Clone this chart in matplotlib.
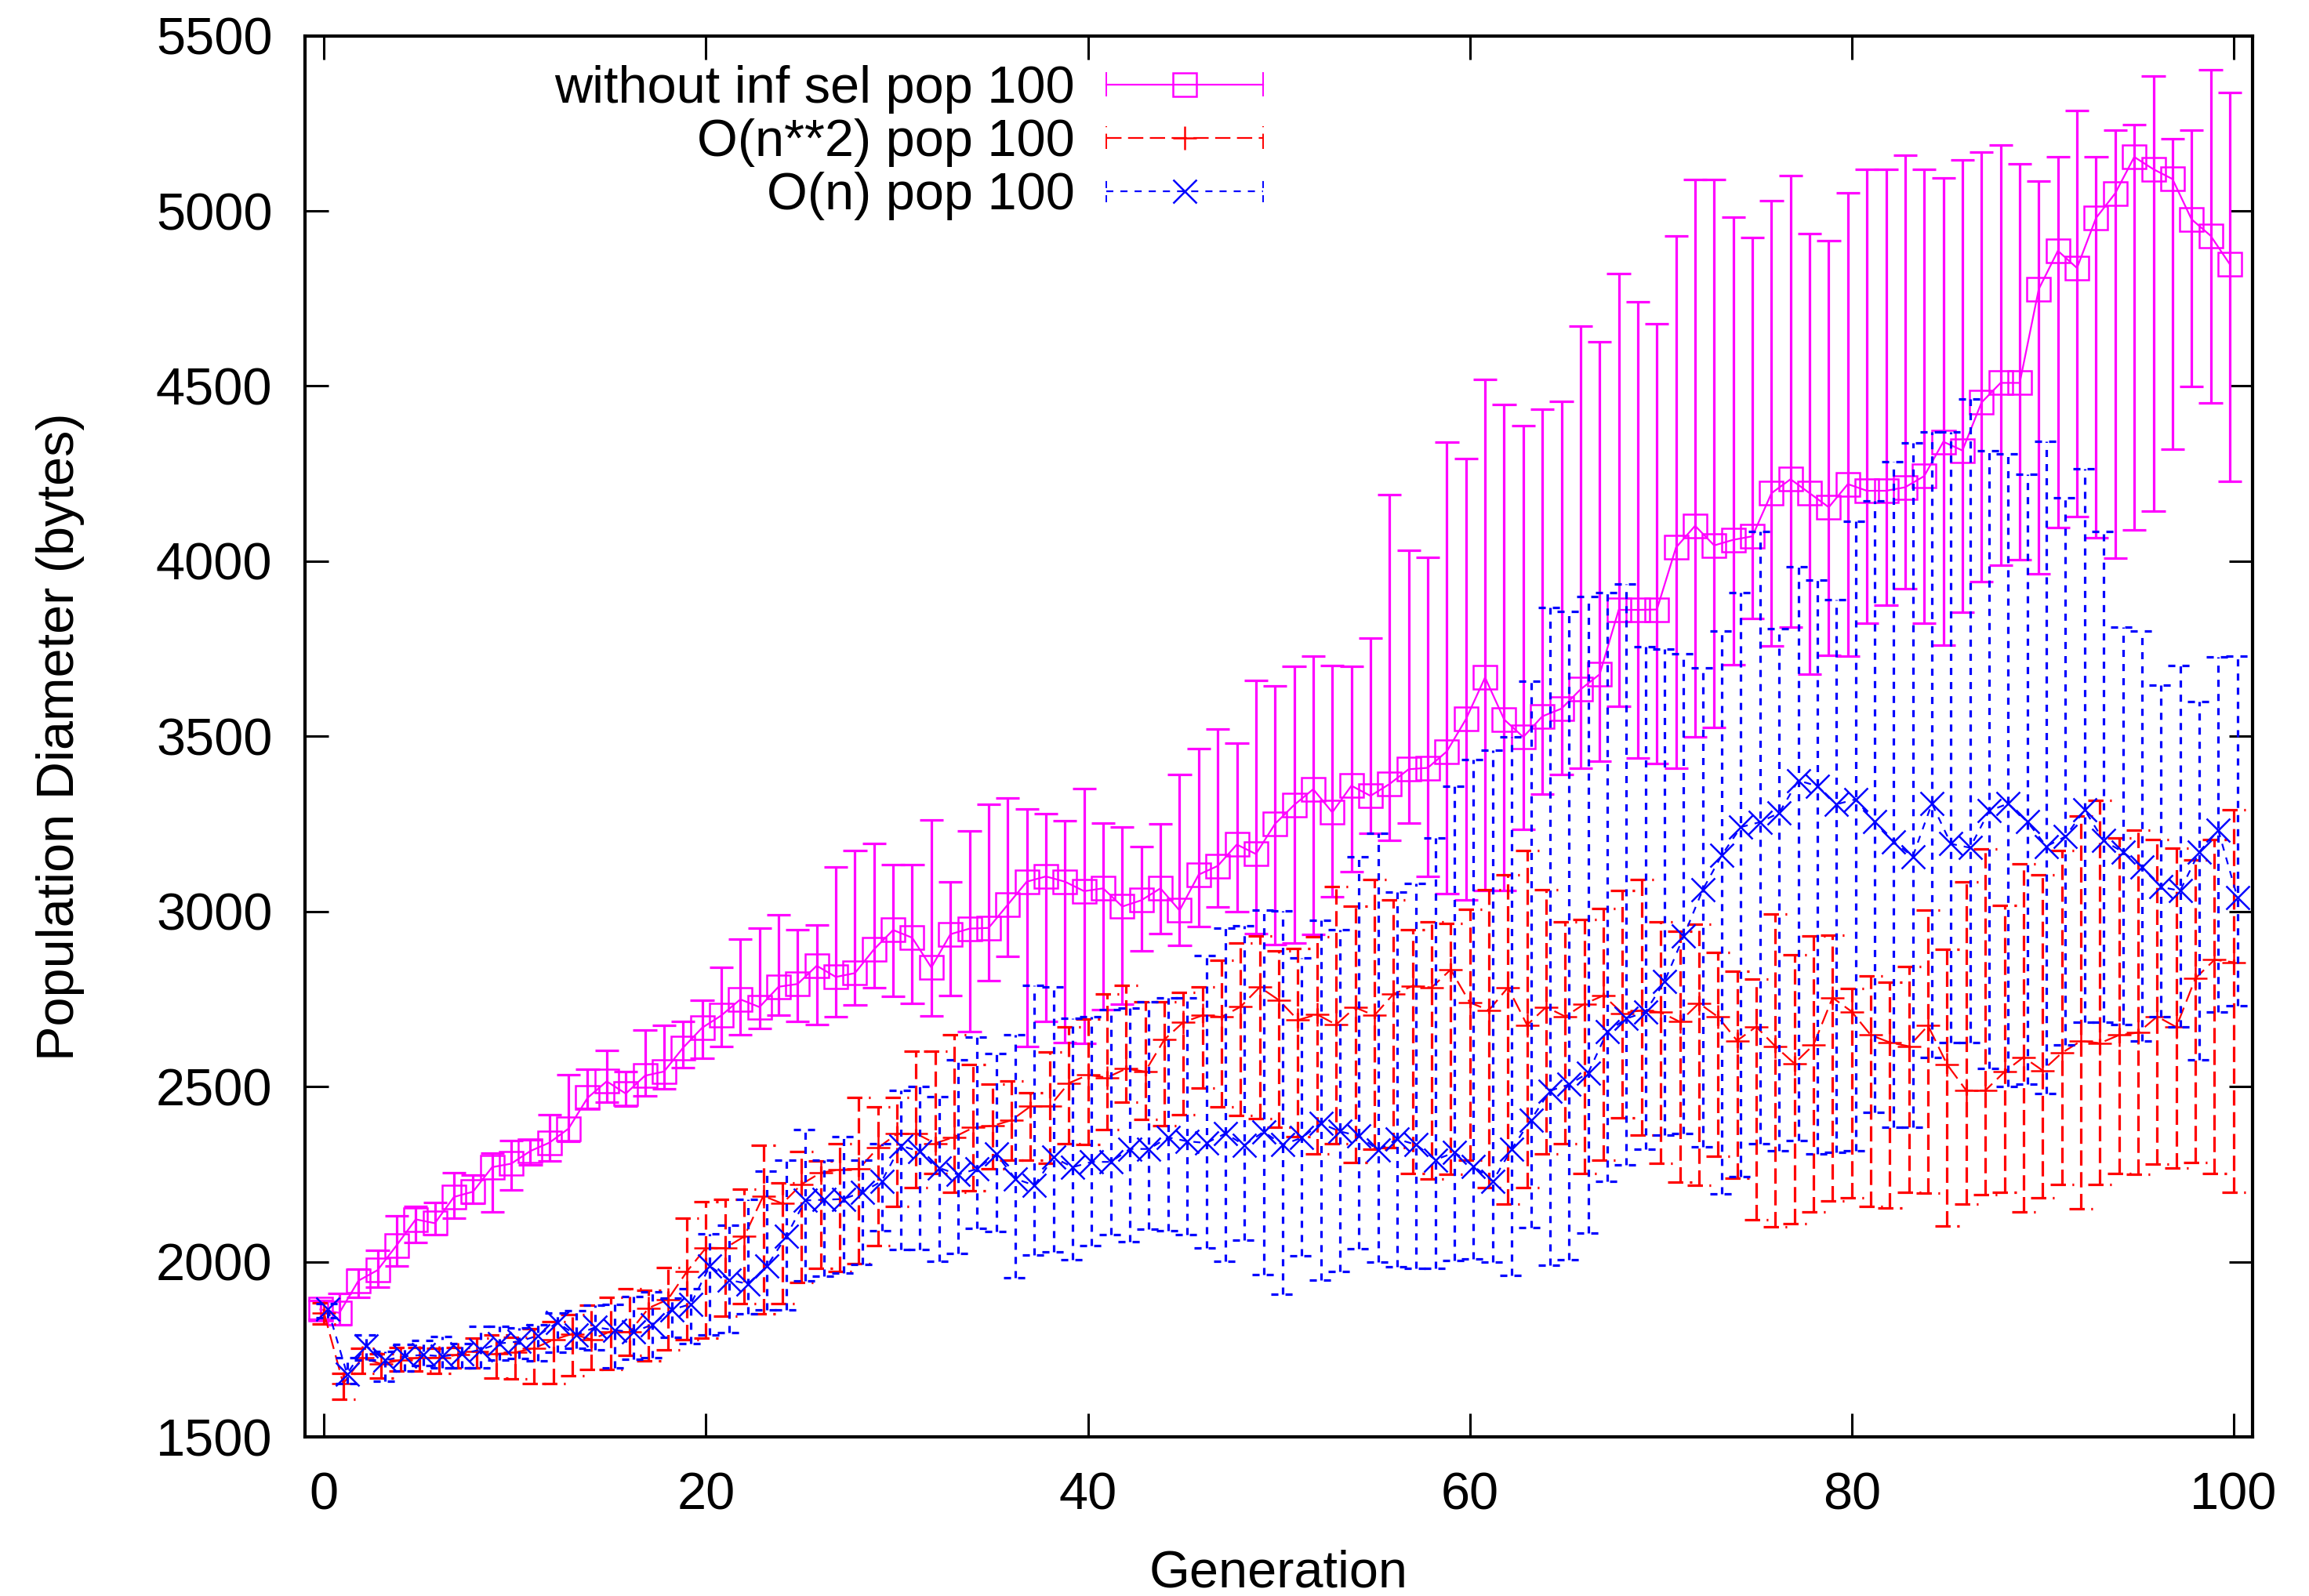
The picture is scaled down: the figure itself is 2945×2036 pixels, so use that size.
import numpy as np
import matplotlib.pyplot as plt
from matplotlib.lines import Line2D
from matplotlib.legend_handler import HandlerBase

# data (population diameter in bytes per generation)
generation = np.arange(0, 101)

# without inf sel pop 100
nosel_mean = [1864, 1854, 1946, 1976, 2047, 2121, 2110, 2185, 2200, 2270,
              2280, 2316, 2340, 2380, 2468, 2515, 2480, 2531, 2543, 2611,
              2668, 2703, 2749, 2727, 2785, 2793, 2845, 2813, 2824, 2892,
              2947, 2925, 2840, 2935, 2951, 2953, 3019, 3085, 3100, 3085,
              3058, 3066, 3014, 3032, 3066, 3003, 3105, 3130, 3191, 3164,
              3250, 3304, 3349, 3283, 3359, 3330, 3364, 3406, 3410, 3457,
              3549, 3668, 3548, 3498, 3557, 3579, 3634, 3677, 3861, 3861,
              3862, 4039, 4101, 4045, 4061, 4071, 4194, 4234, 4194, 4154,
              4220, 4201, 4201, 4211, 4243, 4341, 4316, 4453, 4509, 4509,
              4777, 4886, 4837, 4980, 5050, 5154, 5119, 5091, 4976, 4929,
              4848]
nosel_low = [1835, 1819, 1898, 1927, 1987, 2056, 2077, 2125, 2166, 2142,
             2204, 2276, 2288, 2344, 2438, 2456, 2444, 2473, 2494, 2555,
             2580, 2614, 2648, 2667, 2703, 2685, 2678, 2700, 2733, 2782,
             2758, 2737, 2702, 2760, 2656, 2802, 2871, 2614, 2687, 2626,
             2623, 2719, 2735, 2887, 2936, 2904, 2958, 3012, 2999, 2936,
             2905, 2910, 2935, 3041, 3114, 3224, 3203, 3253, 3101, 3050,
             3032, 3059, 3059, 3234, 3336, 3391, 3409, 3428, 3585, 3437,
             3422, 3410, 3499, 3525, 3704, 3837, 3757, 3811, 3678, 3731,
             3728, 3823, 3875, 3921, 3823, 3760, 3854, 3942, 3989, 4005,
             3963, 4096, 4128, 4066, 4008, 4089, 4142, 4320, 4499, 4452,
             4228]
nosel_high = [1890, 1909, 1980, 2032, 2130, 2158, 2170, 2255, 2248, 2311,
              2347, 2348, 2420, 2534, 2550, 2603, 2543, 2662, 2675, 2687,
              2747, 2840, 2920, 2953, 2991, 2947, 2961, 3127, 3175, 3195,
              3134, 3134, 3262, 3085, 3230, 3305, 3324, 3293, 3279, 3258,
              3351, 3253, 3242, 3186, 3251, 3390, 3466, 3520, 3481, 3660,
              3644, 3699, 3730, 3702, 3699, 3780, 4190, 4030, 4010, 4340,
              4294, 4519, 4447, 4386, 4433, 4457, 4670, 4626, 4820, 4740,
              4677, 4929, 5090, 5090, 4982, 4923, 5030, 5100, 4935, 4915,
              5051, 5118, 5118, 5160, 5118, 5093, 5146, 5167, 5187, 5135,
              5084, 5155, 5286, 5154, 5230, 5246, 5385, 5205, 5230, 5402,
              5339]

# O(n**2) pop 100
quad_mean = [1853, 1652, 1726, 1708, 1719, 1726, 1726, 1734, 1745, 1737,
             1741, 1753, 1777, 1794, 1778, 1801, 1799, 1868, 1892, 1972,
             2040, 2039, 2072, 2188, 2166, 2221, 2254, 2263, 2265, 2325,
             2365, 2366, 2338, 2356, 2383, 2388, 2404, 2444, 2444, 2510,
             2533, 2526, 2551, 2543, 2634, 2684, 2703, 2699, 2728, 2784,
             2747, 2690, 2706, 2677, 2726, 2703, 2764, 2787, 2783, 2834,
             2740, 2718, 2783, 2676, 2727, 2700, 2736, 2760, 2709, 2718,
             2712, 2685, 2738, 2699, 2631, 2671, 2615, 2566, 2619, 2754,
             2714, 2647, 2626, 2615, 2674, 2563, 2489, 2489, 2542, 2584,
             2546, 2596, 2630, 2624, 2647, 2654, 2700, 2670, 2809, 2862,
             2855]
quad_low = [1823, 1607, 1681, 1667, 1689, 1689, 1681, 1696, 1696, 1667,
            1666, 1653, 1653, 1674, 1693, 1693, 1733, 1717, 1749, 1777,
            1782, 1845, 1880, 1852, 1880, 1940, 1981, 1973, 1995, 2047,
            2157, 2211, 2251, 2199, 2202, 2265, 2289, 2289, 2281, 2336,
            2335, 2377, 2456, 2406, 2388, 2420, 2496, 2442, 2417, 2409,
            2384, 2357, 2308, 2338, 2283, 2321, 2325, 2252, 2236, 2249,
            2290, 2211, 2165, 2211, 2307, 2336, 2252, 2289, 2410, 2362,
            2282, 2228, 2218, 2301, 2238, 2119, 2099, 2109, 2143, 2174,
            2182, 2157, 2153, 2199, 2195, 2101, 2164, 2191, 2199, 2143,
            2182, 2221, 2151, 2221, 2253, 2249, 2279, 2267, 2283, 2253,
            2198]
quad_high = [1883, 1681, 1752, 1737, 1756, 1756, 1752, 1756, 1782, 1790,
             1785, 1809, 1829, 1849, 1877, 1898, 1924, 1919, 1983, 2124,
             2172, 2179, 2208, 2333, 2226, 2314, 2287, 2336, 2468, 2443,
             2470, 2602, 2602, 2649, 2562, 2507, 2517, 2482, 2598, 2671,
             2692, 2765, 2790, 2741, 2743, 2768, 2784, 2860, 2909, 2931,
             2888, 2894, 2927, 3072, 3016, 3092, 3033, 2948, 2970, 2965,
             3005, 3063, 3105, 3173, 3063, 2971, 2976, 3008, 3059, 3092,
             2970, 2943, 2963, 2883, 2830, 2808, 2992, 2877, 2929, 2933,
             2779, 2815, 2798, 2842, 3004, 2892, 3084, 3178, 3018, 3136,
             3104, 3174, 3272, 3318, 3209, 3232, 3205, 3181, 3147, 3205,
             3290]

# O(n) pop 100
lin_mean = [1864, 1680, 1760, 1719, 1730, 1734, 1730, 1737, 1749, 1767,
            1772, 1789, 1826, 1791, 1813, 1805, 1799, 1821, 1863, 1879,
            1988, 1948, 1937, 1988, 2072, 2175, 2177, 2179, 2199, 2230,
            2331, 2315, 2268, 2249, 2265, 2307, 2237, 2218, 2298, 2270,
            2285, 2285, 2322, 2322, 2355, 2344, 2339, 2366, 2333, 2371,
            2334, 2354, 2395, 2372, 2359, 2319, 2350, 2334, 2291, 2312,
            2273, 2230, 2322, 2405, 2488, 2506, 2539, 2657, 2694, 2713,
            2800, 2929, 3062, 3161, 3241, 3255, 3281, 3374, 3358, 3306,
            3320, 3256, 3199, 3157, 3308, 3193, 3182, 3287, 3308, 3256,
            3186, 3214, 3290, 3202, 3170, 3128, 3070, 3059, 3170, 3232,
            3040]
lin_low = [1840, 1652, 1719, 1659, 1689, 1704, 1696, 1696, 1696, 1719,
           1724, 1717, 1741, 1753, 1749, 1698, 1721, 1725, 1785, 1767,
           1790, 1797, 1852, 1863, 1863, 1946, 1959, 1968, 1992, 2089,
           2034, 2034, 2001, 2024, 2095, 2086, 1954, 2020, 2029, 2006,
           2047, 2078, 2057, 2094, 2089, 2078, 2040, 2002, 2062, 1964,
           1907, 2016, 1947, 1973, 2036, 2000, 1985, 1981, 1981, 2003,
           2008, 1999, 1962, 2097, 1990, 2005, 2082, 2230, 2276, 2322,
           2362, 2367, 2327, 2194, 2242, 2337, 2317, 2347, 2307, 2313,
           2317, 2426, 2384, 2384, 2584, 2626, 2626, 2552, 2500, 2506,
           2480, 2619, 2684, 2684, 2677, 2630, 2700, 2670, 2577, 2712,
           2730]
lin_high = [1880, 1726, 1790, 1745, 1763, 1775, 1786, 1767, 1816, 1816,
            1812, 1821, 1853, 1861, 1877, 1879, 1900, 1914, 1896, 1922,
            2080, 2105, 2177, 2259, 2289, 2377, 2289, 2358, 2289, 2336,
            2490, 2501, 2472, 2576, 2642, 2595, 2649, 2788, 2784, 2694,
            2700, 2719, 2724, 2741, 2754, 2754, 2873, 2952, 2960, 3003,
            3001, 2868, 2974, 2948, 3155, 3224, 3056, 3079, 3209, 3358,
            3433, 3461, 3498, 3658, 3867, 3857, 3898, 3911, 3935, 3756,
            3750, 3735, 3696, 3801, 3910, 4085, 3807, 3985, 3946, 3890,
            4113, 4173, 4285, 4337, 4369, 4369, 4463, 4316, 4306, 4249,
            4343, 4182, 4263, 4084, 3811, 3800, 3647, 3702, 3600, 3726,
            3730]

labels = ['without inf sel pop 100', 'O(n**2) pop 100', 'O(n) pop 100']

plt.rcParams['font.family'] = ['Liberation Sans', 'DejaVu Sans']
plt.rcParams['font.size'] = 48
plt.rcParams['lines.scale_dashes'] = False

# gnuplot-ish line types: colour, dash, marker, x shift
styles = [
    dict(color='#ff00ff', dash='solid', marker='s', shift=-0.2),
    dict(color='#ff0000', dash=(0, (14, 6)), marker='+', shift=0.0),
    dict(color='#0000ff', dash=(0, (6.5, 6.5)), marker='x', shift=0.2),
]
series = [
    (nosel_mean, nosel_low, nosel_high),
    (quad_mean, quad_low, quad_high),
    (lin_mean, lin_low, lin_high),
]


class ErrorKey(HandlerBase):
    """legend sample like gnuplot: line, centred point, end ticks"""

    def __init__(self, dash):
        super().__init__()
        self.dash = dash

    def create_artists(self, legend, orig, xd, yd, w, h, fontsize, trans):
        y = h / 2 - yd
        x0, x1 = -xd, w - xd
        c = 0.22 * fontsize
        col = orig.get_color()
        line = Line2D([x0, x1], [y, y], color=col, ls=self.dash, lw=1.6, transform=trans)
        left = Line2D([x0, x0], [y - c, y + c], color=col, ls=self.dash, lw=1.4, transform=trans)
        right = Line2D([x1, x1], [y - c, y + c], color=col, ls=self.dash, lw=1.4, transform=trans)
        point = Line2D([(x0 + x1) / 2], [y], color=col, ls='none', marker=orig.get_marker(),
                       ms=orig.get_markersize(), mew=orig.get_markeredgewidth(),
                       mfc='none', transform=trans)
        return [line, left, right, point]


fig = plt.figure(figsize=(29.45, 20.36), dpi=100)
ax = fig.add_axes([0.1321, 0.0997, 0.8435, 0.8779])

cap = 0.62
handles = []
handler_map = {}
for (mean, low, high), st in zip(series, styles):
    x = generation + st['shift']
    ax.vlines(x, low, high, colors=st['color'], linestyles=st['dash'], linewidth=2.3)
    ax.hlines(low, x - cap, x + cap, colors=st['color'], linestyles=st['dash'], linewidth=2.3)
    ax.hlines(high, x - cap, x + cap, colors=st['color'], linestyles=st['dash'], linewidth=2.3)
    ln, = ax.plot(x, mean, color=st['color'], ls=st['dash'], lw=1.6,
                  marker=st['marker'], ms=22, mfc='none', mew=1.8)
    handles.append(ln)
    handler_map[ln] = ErrorKey(st['dash'])

ax.set_xlim(-1, 101)
ax.set_ylim(1500, 5500)
ax.set_xticks(range(0, 101, 20))
ax.set_yticks(range(1500, 5501, 500))
ax.tick_params(direction='in', length=21.6, width=2.2, top=True, right=True, labelsize=48)
ax.tick_params(axis='y', pad=30)
ax.tick_params(axis='x', pad=32)
for sp in ax.spines.values():
    sp.set_linewidth(3)

ax.set_xlabel('Generation')
ax.xaxis.set_label_coords(0.5, -0.080)
ax.set_ylabel('Population Diameter (bytes)')
ax.yaxis.set_label_coords(-0.113, 0.5)

ax.legend(handles, labels, handler_map=handler_map, loc='upper right',
          bbox_to_anchor=(0.492, 0.979), frameon=False, markerfirst=False,
          handlelength=3.0, handletextpad=0.6, labelspacing=0.09,
          borderpad=0, borderaxespad=0)

fig.savefig('out.png', dpi=100)
